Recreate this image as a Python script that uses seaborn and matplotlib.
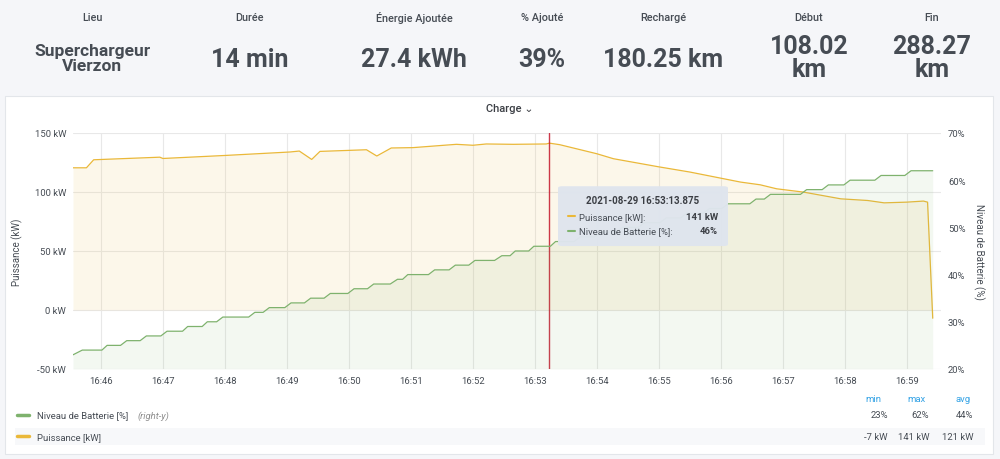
import pandas as pd
import matplotlib
matplotlib.use("Agg")
import matplotlib.pyplot as plt
import matplotlib.dates as mdates
from matplotlib.patches import FancyBboxPatch, Rectangle
from matplotlib.lines import Line2D
import seaborn as sns

# stats row
stat_labels = ["Lieu", "Durée", "Énergie Ajoutée", "% Ajouté", "Rechargé", "Début", "Fin"]
stat_values = ["Superchargeur\nVierzon", "14 min", "27.4 kWh", "39%", "180.25 km", "108.02\nkm", "288.27\nkm"]

# power series (kW)
power_times = ["16:45:33", "16:45:46", "16:45:53", "16:46:57", "16:47:00", "16:48:01", "16:49:03",
               "16:49:12", "16:49:24", "16:49:32", "16:50:17", "16:50:27", "16:50:41", "16:51:02",
               "16:51:44", "16:52:00", "16:52:13", "16:52:39", "16:53:11", "16:53:14", "16:53:24",
               "16:54:00", "16:54:16", "16:55:00", "16:55:30", "16:56:19", "16:56:38", "16:56:54",
               "16:57:20", "16:57:56", "16:58:22", "16:58:38", "16:59:00", "16:59:16", "16:59:20",
               "16:59:25"]
power_kw = [120.5, 120.5, 127.3, 129.5, 128.4, 131.0, 133.9,
            134.7, 127.6, 134.4, 135.8, 130.5, 137.3, 137.6,
            140.4, 139.6, 140.7, 140.4, 140.7, 141.4, 140.1,
            132.4, 128.2, 121.3, 116.9, 108.4, 106.1, 102.7,
            99.9, 94.2, 92.8, 90.8, 91.4, 92.3, 91.4,
            -7.0]

# battery level (%)
batt_times = ["16:45:33", "16:45:42", "16:46:01", "16:46:06", "16:46:19", "16:46:25", "16:46:38",
              "16:46:44", "16:46:58", "16:47:04", "16:47:19", "16:47:24", "16:47:38", "16:47:43",
              "16:47:52", "16:47:58", "16:48:23", "16:48:29", "16:48:37", "16:48:43", "16:48:58",
              "16:49:04", "16:49:17", "16:49:23", "16:49:36", "16:49:42", "16:49:59", "16:50:05",
              "16:50:18", "16:50:24", "16:50:40", "16:50:47", "16:50:52", "16:50:57", "16:51:17",
              "16:51:23", "16:51:37", "16:51:43", "16:51:56", "16:52:02", "16:52:21", "16:52:28",
              "16:52:36", "16:52:41", "16:52:54", "16:52:59", "16:53:15", "16:53:20", "16:53:38",
              "16:53:44", "16:53:58", "16:54:04", "16:54:19", "16:54:25", "16:54:40", "16:54:46",
              "16:55:01", "16:55:07", "16:55:21", "16:55:27", "16:55:43", "16:55:49", "16:56:01",
              "16:56:07", "16:56:28", "16:56:34", "16:56:42", "16:56:48", "16:57:17", "16:57:23",
              "16:57:38", "16:57:44", "16:57:59", "16:58:05", "16:58:29", "16:58:35", "16:58:58",
              "16:59:04", "16:59:25"]
batt_pct = [23, 24, 24, 25, 25, 26, 26,
            27, 27, 28, 28, 29, 29, 30,
            30, 31, 31, 32, 32, 33, 33,
            34, 34, 35, 35, 36, 36, 37,
            37, 38, 38, 39, 39, 40, 40,
            41, 41, 42, 42, 43, 43, 44,
            44, 45, 45, 46, 46, 47, 47,
            48, 48, 49, 49, 50, 50, 51,
            51, 52, 52, 53, 53, 54, 54,
            55, 55, 56, 56, 57, 57, 58,
            58, 59, 59, 60, 60, 61, 61,
            62, 62]

cursor_time = "16:53:13.875"
legend_names = ["Niveau de Batterie [%]", "Puissance [kW]"]
legend_min = ["23%", "-7 kW"]
legend_max = ["62%", "141 kW"]
legend_avg = ["44%", "121 kW"]

day = "2021-08-29 "
df_p = pd.DataFrame({"t": pd.to_datetime([day + t for t in power_times]), "kw": power_kw})
df_b = pd.DataFrame({"t": pd.to_datetime([day + t for t in batt_times]), "pct": batt_pct})
t_cur = pd.to_datetime(day + cursor_time)

sns.set_style("white")
plt.rcParams["font.family"] = ["Roboto", "DejaVu Sans"]

YELLOW = "#eab839"
GREEN = "#7eb26d"
TXT = "#464c54"
DARK = "#3b3e44"

fig = plt.figure(figsize=(10, 4.6), dpi=100, facecolor="#f5f6f9")

# panel
fig.patches.append(Rectangle((0.005, 0.011), 0.988, 0.778, transform=fig.transFigure,
                             facecolor="white", edgecolor="#e3e6ea", lw=0.8, zorder=-10))

# stats row
stat_x = [0.092, 0.250, 0.414, 0.542, 0.663, 0.809, 0.932]
for x, lab, val in zip(stat_x, stat_labels, stat_values):
    fig.text(x, 0.961, lab, ha="center", va="center", fontsize=7.8, color=TXT, fontweight="medium")
    if x == stat_x[0]:
        fig.text(x, 0.872, val, ha="center", va="center", fontsize=12.5, color=TXT,
                 fontweight="bold", linespacing=0.95)
    elif "\n" in val:
        fig.text(x, 0.872, val, ha="center", va="center", fontsize=18, color=TXT,
                 fontweight="bold", linespacing=0.95)
    else:
        fig.text(x, 0.870, val, ha="center", va="center", fontsize=18, color=TXT, fontweight="bold")

fig.text(0.51, 0.763, "Charge ⌄", ha="center", va="center", fontsize=8, color=DARK, fontweight="medium")

ax = fig.add_axes([0.073, 0.1957, 0.868, 0.513])
ax.patch.set_visible(False)
ax2 = ax.twinx()

# power on left axis
sns.lineplot(data=df_p, x="t", y="kw", ax=ax, color=YELLOW, linewidth=0.9, legend=False, sort=False)
ax.fill_between(df_p["t"], df_p["kw"], 0, color=YELLOW, alpha=0.1, lw=0)

# battery on right axis
sns.lineplot(data=df_b, x="t", y="pct", ax=ax2, color=GREEN, linewidth=0.9, legend=False, sort=False)
ax2.fill_between(df_b["t"], df_b["pct"], 20, color=GREEN, alpha=0.09, lw=0)

ax.axvline(t_cur, color="#c4162a", lw=1, alpha=0.85, zorder=4)

ax.set_xlim(pd.to_datetime(day + "16:45:33"), pd.to_datetime(day + "16:59:33"))
ax.set_ylim(-50, 150)
ax.set_yticks([-50, 0, 50, 100, 150])
ax.set_yticklabels([f"{v} kW" for v in [-50, 0, 50, 100, 150]])
ax2.set_ylim(20, 70)
ax2.set_yticks([20, 30, 40, 50, 60, 70])
ax2.set_yticklabels([f"{v}%" for v in [20, 30, 40, 50, 60, 70]])

ax.xaxis.set_major_locator(mdates.MinuteLocator())
ax.xaxis.set_major_formatter(mdates.DateFormatter("%H:%M"))

ax.grid(True, color="#e8e8e8", lw=0.8)
ax2.grid(False)
for a in (ax, ax2):
    for s in a.spines.values():
        s.set_visible(False)
    a.tick_params(length=0, labelsize=6.8, colors=TXT, pad=5)
ax.set_xlabel("")
ax.set_ylabel("Puissance (kW)", fontsize=7, color=TXT, labelpad=8)
ax2.set_ylabel("Niveau de Batterie (%)", fontsize=7, color=TXT, rotation=270, labelpad=14)

# tooltip
fig.patches.append(FancyBboxPatch((0.560, 0.465), 0.166, 0.126, transform=fig.transFigure,
                                  boxstyle="round,pad=0.002,rounding_size=0.004",
                                  facecolor="#dfe5ee", edgecolor="none", alpha=0.97, zorder=5))
fig.text(0.643, 0.5637, "2021-08-29 16:53:13.875", ha="center", va="center", fontsize=7,
         color=DARK, fontweight="bold", zorder=6)
tip_rows = [(0.5276, YELLOW, "Puissance [kW]:", "141 kW"), (0.4963, GREEN, "Niveau de Batterie [%]:", "46%")]
for y, c, name, val in tip_rows:
    fig.lines.append(Line2D([0.568, 0.575], [y, y], transform=fig.transFigure, color=c, lw=1.5, zorder=6))
    fig.text(0.579, y, name, ha="left", va="center", fontsize=6.8, color=TXT, zorder=6)
    fig.text(0.718, y, val, ha="right", va="center", fontsize=6.8, color=DARK, fontweight="bold", zorder=6)

# legend table
for x, h in zip([0.873, 0.917, 0.963], ["min", "max", "avg"]):
    fig.text(x, 0.1326, h, ha="center", va="center", fontsize=6.8, color="#33a2e5")
fig.patches.append(Rectangle((0.015, 0.03), 0.97, 0.038, transform=fig.transFigure,
                             facecolor="#f7f8fa", edgecolor="none", zorder=-9))
leg_rows = [(0.0957, GREEN), (0.049, YELLOW)]
for i, (y, c) in enumerate(leg_rows):
    fig.lines.append(Line2D([0.017, 0.029], [y, y], transform=fig.transFigure, color=c, lw=2.5))
    fig.text(0.037, y, legend_names[i], ha="left", va="center", fontsize=6.8, color=TXT)
    if i == 0:
        fig.text(0.137, y, "(right-y)", ha="left", va="center", fontsize=6.8, color="#8e8e8e", style="italic")
    fig.text(0.888, y, legend_min[i], ha="right", va="center", fontsize=6.8, color=TXT)
    fig.text(0.929, y, legend_max[i], ha="right", va="center", fontsize=6.8, color=TXT)
    fig.text(0.973, y, legend_avg[i], ha="right", va="center", fontsize=6.8, color=TXT)

fig.savefig("out.png", dpi=100, facecolor=fig.get_facecolor())
